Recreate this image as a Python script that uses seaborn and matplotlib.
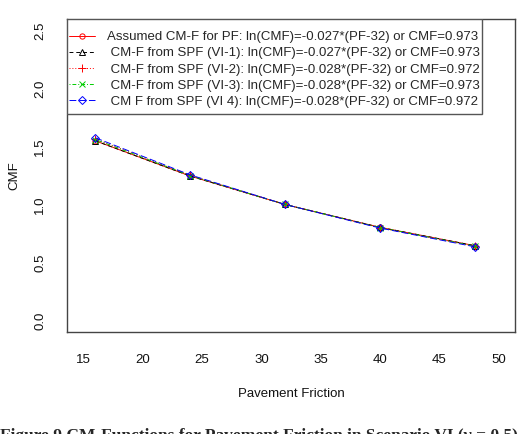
import matplotlib
matplotlib.use("Agg")
import matplotlib.pyplot as plt
import seaborn as sns
import pandas as pd
from matplotlib.patches import Rectangle

pf = [16, 24, 32, 40, 48]
cmf_assumed = [1.549, 1.245, 1.000, 0.803, 0.645]
cmf_vi1 = [1.549, 1.245, 1.000, 0.803, 0.645]
cmf_vi2 = [1.565, 1.251, 1.000, 0.799, 0.639]
cmf_vi3 = [1.560, 1.249, 1.000, 0.801, 0.641]
cmf_vi4 = [1.575, 1.255, 1.000, 0.797, 0.635]

labels = [
    "Assumed CM-F for PF: ln(CMF)=-0.027*(PF-32) or CMF=0.973",
    " CM-F from SPF (VI-1): ln(CMF)=-0.027*(PF-32) or CMF=0.973",
    " CM-F from SPF (VI-2): ln(CMF)=-0.028*(PF-32) or CMF=0.972",
    " CM-F from SPF (VI-3): ln(CMF)=-0.028*(PF-32) or CMF=0.973",
    " CM F from SPF (VI 4): ln(CMF)=-0.028*(PF-32) or CMF=0.972",
]
series = [cmf_assumed, cmf_vi1, cmf_vi2, cmf_vi3, cmf_vi4]
x_ticks = [15, 20, 25, 30, 35, 40, 45, 50]
y_ticks = [0.0, 0.5, 1.0, 1.5, 2.0, 2.5]

colors = ["#FF0000", "#000000", "#FF0000", "#00CD00", "#0000FF"]
styles = ["-", (0, (4, 3)), (0, (1, 2)), (0, (1, 2, 4, 2)), (0, (7, 3))]
markers = ["o", "^", "+", "x", "D"]
msizes = [3.8, 4.2, 5.5, 3.8, 3.8]

sns.set_style("white")
plt.rcParams["font.family"] = ["Liberation Sans", "DejaVu Sans"]

fig = plt.figure(figsize=(5.22, 4.34), dpi=100)
ax = fig.add_axes([67 / 522, 1 - 332 / 434, 448 / 522, 313 / 434])

for vals, lab, c, ls, m, ms in zip(series, labels, colors, styles, markers, msizes):
    df = pd.DataFrame({"PF": pf, "CMF": vals})
    sns.lineplot(data=df, x="PF", y="CMF", ax=ax, color=c, linestyle=ls,
                 linewidth=0.7, marker=m, markersize=ms,
                 markerfacecolor="none", markeredgecolor=c, markeredgewidth=0.7,
                 label=lab)

ax.set_xlim(13.6, 51.4)
ax.set_ylim(-0.1, 2.6)
ax.set_xticks(x_ticks)
ax.set_xticklabels([str(t) for t in x_ticks])
ax.set_yticks(y_ticks)
ax.set_yticklabels([f"{t:.1f}" for t in y_ticks], rotation=90, va="center")

for s in ax.spines.values():
    s.set_color("#444444")
    s.set_linewidth(1.0)
ax.tick_params(axis="both", direction="out", length=7, width=0.9, color="#555555",
               labelsize=9.5, labelcolor="#111111")
ax.tick_params(axis="x", pad=9)
ax.tick_params(axis="y", pad=8)

ax.set_xlabel("Pavement Friction", fontsize=9.5, color="#111111", labelpad=16)
ax.set_ylabel("CMF", fontsize=9.5, color="#111111", labelpad=10)

# legend box
ax.add_patch(Rectangle((0, 1 - 95 / 313), 415 / 448, 95 / 313, transform=ax.transAxes,
                       facecolor="white", edgecolor="#555555", linewidth=1.0, zorder=5))
leg = ax.legend(loc="upper left", bbox_to_anchor=(2 / 448, 1 - 12 / 313),
                frameon=False, fontsize=9.5, borderpad=0, borderaxespad=0,
                labelspacing=0.3, handlelength=1.95, handletextpad=0.9)
leg.set_zorder(6)

fig.text(0.0, 1 - 428 / 434, "Figure 9 CM-Functions for Pavement Friction in Scenario VI (\u03b3 = 0.5)",
         fontsize=12.5, fontweight="bold", family=["Liberation Serif", "DejaVu Serif"],
         va="top", ha="left")

fig.savefig("out.png", dpi=100)
